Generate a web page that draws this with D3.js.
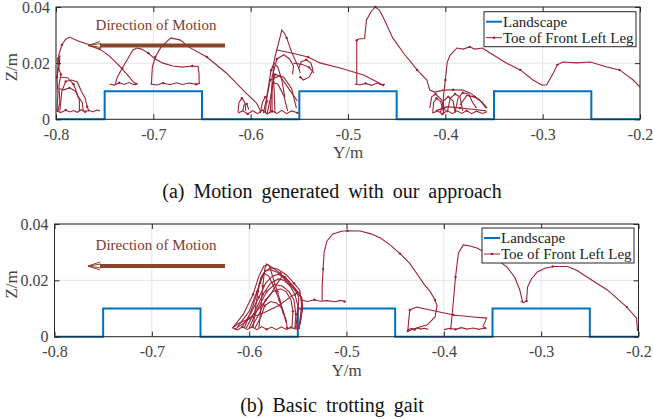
<!DOCTYPE html>
<html>
<head>
<meta charset="utf-8">
<script src="https://cdn.jsdelivr.net/npm/d3@7"></script>
<style>
  body { margin: 0; background: #fff; }
  svg { display: block; }
  svg text { font-family: "Liberation Serif", "Times New Roman", serif; }
</style>
</head>
<body>
<div id="chart"></div>
<script>
// ticks and landscape profile
const xTicks = [-0.8, -0.7, -0.6, -0.5, -0.4, -0.3, -0.2]
const yTicks = [0, 0.02, 0.04]
const landscapeY = [-0.8, -0.75, -0.65, -0.55, -0.45, -0.35, -0.25, -0.2]
const landscapeZ = [0, 0.01, 0, 0.01, 0, 0.01, 0, 0]
const legendLabels = ['Landscape', 'Toe of Front Left Leg']
const captions = ['(a) Motion generated with our approach', '(b) Basic trotting gait']

// toe trajectory, panel (a): each entry is one stroke of [Y, Z]
const toeApproach = [
  [[-0.799,0.0026],[-0.798,0.0090],[-0.799,0.0150],[-0.797,0.0190],[-0.799,0.0215],[-0.796,0.0225],[-0.797,0.0180],[-0.795,0.0160],[-0.797,0.0120],[-0.796,0.0060],[-0.798,0.0030]],
  [[-0.799,0.0030],[-0.795,0.0024],[-0.790,0.0033],[-0.786,0.0026],[-0.782,0.0031],[-0.778,0.0025],[-0.774,0.0034],[-0.770,0.0027],[-0.766,0.0032],[-0.762,0.0026],[-0.758,0.0033],[-0.755,0.0030]],
  [[-0.796,0.0030],[-0.794,0.0100],[-0.790,0.0135],[-0.784,0.0140],[-0.778,0.0133],[-0.774,0.0100],[-0.770,0.0075],[-0.768,0.0045],[-0.766,0.0028]],
  [[-0.795,0.0150],[-0.788,0.0148],[-0.782,0.0125],[-0.777,0.0080],[-0.773,0.0060],[-0.772,0.0028]],
  [[-0.797,0.0110],[-0.792,0.0105],[-0.786,0.0112],[-0.780,0.0100],[-0.776,0.0070],[-0.776,0.0030]],
  [[-0.799,0.0150],[-0.797,0.0230],[-0.794,0.0265],[-0.790,0.0285],[-0.786,0.0293],[-0.778,0.0280],[-0.768,0.0268],[-0.755,0.0250],[-0.745,0.0225],[-0.735,0.0190],[-0.727,0.0160],[-0.721,0.0135],[-0.718,0.0126]],
  [[-0.745,0.0126],[-0.740,0.0122],[-0.735,0.0130],[-0.730,0.0124],[-0.725,0.0131],[-0.720,0.0123],[-0.716,0.0128]],
  [[-0.739,0.0126],[-0.737,0.0150],[-0.732,0.0182],[-0.727,0.0211],[-0.721,0.0247],[-0.717,0.0254],[-0.712,0.0250],[-0.705,0.0235],[-0.698,0.0215],[-0.690,0.0200],[-0.680,0.0190],[-0.670,0.0186],[-0.660,0.0190],[-0.654,0.0188],[-0.653,0.0160],[-0.653,0.0129]],
  [[-0.702,0.0126],[-0.701,0.0186],[-0.698,0.0222],[-0.692,0.0258],[-0.682,0.0290],[-0.672,0.0282],[-0.664,0.0258],[-0.645,0.0222],[-0.625,0.0165],[-0.605,0.0094],[-0.594,0.0058],[-0.590,0.0030]],
  [[-0.703,0.0126],[-0.696,0.0122],[-0.690,0.0129],[-0.683,0.0123],[-0.676,0.0130],[-0.670,0.0124],[-0.663,0.0129],[-0.656,0.0125],[-0.652,0.0128]],
  [[-0.613,0.0022],[-0.608,0.0030],[-0.603,0.0019],[-0.598,0.0031],[-0.593,0.0020],[-0.588,0.0033],[-0.583,0.0019],[-0.578,0.0030],[-0.573,0.0021],[-0.568,0.0032],[-0.563,0.0020],[-0.558,0.0030],[-0.552,0.0023]],
  [[-0.613,0.0025],[-0.612,0.0060],[-0.609,0.0075],[-0.606,0.0060],[-0.605,0.0030]],
  [[-0.608,0.0030],[-0.607,0.0050],[-0.604,0.0055],[-0.602,0.0035]],
  [[-0.575,0.0022],[-0.576,0.0110],[-0.577,0.0186],[-0.575,0.0222],[-0.570,0.0290],[-0.568,0.0318],[-0.565,0.0305],[-0.563,0.0290],[-0.558,0.0240],[-0.551,0.0186],[-0.549,0.0165]],
  [[-0.573,0.0247],[-0.558,0.0236],[-0.541,0.0222],[-0.529,0.0201],[-0.508,0.0183],[-0.484,0.0158],[-0.470,0.0133],[-0.464,0.0122]],
  [[-0.493,0.0126],[-0.488,0.0122],[-0.482,0.0128],[-0.476,0.0121],[-0.470,0.0129],[-0.466,0.0123],[-0.462,0.0125]],
  [[-0.551,0.0180],[-0.548,0.0205],[-0.543,0.0212],[-0.538,0.0200],[-0.536,0.0175],[-0.540,0.0150],[-0.546,0.0140],[-0.549,0.0150]],
  [[-0.556,0.0200],[-0.547,0.0195],[-0.540,0.0185],[-0.535,0.0165]],
  [[-0.587,0.0022],[-0.582,0.0100],[-0.580,0.0140],[-0.570,0.0155],[-0.560,0.0105],[-0.552,0.0065]],
  [[-0.583,0.0022],[-0.580,0.0070],[-0.577,0.0130],[-0.572,0.0125],[-0.566,0.0085],[-0.562,0.0030]],
  [[-0.590,0.0022],[-0.588,0.0060],[-0.585,0.0080],[-0.582,0.0060]],
  [[-0.585,0.0022],[-0.583,0.0090],[-0.579,0.0175],[-0.576,0.0200],[-0.572,0.0185],[-0.568,0.0140],[-0.565,0.0080]],
  [[-0.580,0.0022],[-0.578,0.0120],[-0.575,0.0160],[-0.566,0.0150],[-0.558,0.0110],[-0.553,0.0040]],
  [[-0.578,0.0022],[-0.578,0.0150],[-0.573,0.0215],[-0.566,0.0230],[-0.560,0.0215],[-0.556,0.0190],[-0.557,0.0160]],
  [[-0.491,0.0126],[-0.491,0.0200],[-0.491,0.0282],[-0.489,0.0286],[-0.483,0.0288],[-0.481,0.0354],[-0.476,0.0385],[-0.472,0.0400],[-0.468,0.0390],[-0.464,0.0364],[-0.454,0.0290],[-0.443,0.0236],[-0.429,0.0176],[-0.419,0.0140],[-0.416,0.0104],[-0.411,0.0097],[-0.402,0.0104],[-0.392,0.0105],[-0.382,0.0104],[-0.375,0.0095],[-0.365,0.0070],[-0.358,0.0040]],
  [[-0.413,0.0022],[-0.412,0.0060],[-0.409,0.0075],[-0.405,0.0065],[-0.402,0.0030]],
  [[-0.416,0.0040],[-0.414,0.0080],[-0.410,0.0090],[-0.404,0.0070],[-0.400,0.0030]],
  [[-0.405,0.0025],[-0.402,0.0065],[-0.397,0.0080],[-0.392,0.0065],[-0.390,0.0025]],
  [[-0.398,0.0025],[-0.395,0.0075],[-0.390,0.0090],[-0.385,0.0080],[-0.382,0.0030]],
  [[-0.390,0.0025],[-0.387,0.0075],[-0.382,0.0095],[-0.376,0.0090],[-0.372,0.0060],[-0.368,0.0040]],
  [[-0.385,0.0050],[-0.378,0.0085],[-0.370,0.0080],[-0.362,0.0060],[-0.357,0.0040]],
  [[-0.410,0.0030],[-0.398,0.0045],[-0.385,0.0040],[-0.370,0.0035],[-0.358,0.0030]],
  [[-0.413,0.0022],[-0.408,0.0030],[-0.403,0.0019],[-0.398,0.0031],[-0.393,0.0020],[-0.388,0.0030],[-0.383,0.0021],[-0.378,0.0031],[-0.373,0.0020],[-0.368,0.0029],[-0.362,0.0021],[-0.357,0.0027]],
  [[-0.402,0.0022],[-0.402,0.0080],[-0.400,0.0140],[-0.398,0.0204],[-0.395,0.0229],[-0.388,0.0254],[-0.382,0.0250],[-0.375,0.0258],[-0.370,0.0250],[-0.362,0.0254],[-0.354,0.0236],[-0.337,0.0200],[-0.323,0.0176],[-0.310,0.0140],[-0.301,0.0122],[-0.296,0.0122],[-0.289,0.0165],[-0.285,0.0194],[-0.279,0.0204],[-0.265,0.0201],[-0.251,0.0204],[-0.234,0.0186],[-0.221,0.0176],[-0.207,0.0140],[-0.200,0.0115]]
]

// toe trajectory, panel (b)
const toeTrotting = [
  [[-0.617,0.0031],[-0.606,0.0080],[-0.596,0.0150],[-0.590,0.0215],[-0.585,0.0250],[-0.581,0.0256],[-0.576,0.0245],[-0.568,0.0225],[-0.560,0.0200],[-0.553,0.0170],[-0.549,0.0140],[-0.550,0.0080],[-0.552,0.0035]],
  [[-0.612,0.0035],[-0.600,0.0090],[-0.592,0.0160],[-0.587,0.0215],[-0.583,0.0235],[-0.578,0.0238],[-0.572,0.0230],[-0.563,0.0210],[-0.555,0.0180],[-0.549,0.0155],[-0.546,0.0130],[-0.547,0.0060],[-0.549,0.0031]],
  [[-0.608,0.0031],[-0.598,0.0085],[-0.590,0.0140],[-0.583,0.0190],[-0.576,0.0215],[-0.570,0.0222],[-0.565,0.0210],[-0.558,0.0185],[-0.552,0.0160],[-0.546,0.0140],[-0.545,0.0100],[-0.548,0.0040]],
  [[-0.605,0.0031],[-0.596,0.0110],[-0.589,0.0190],[-0.584,0.0230],[-0.578,0.0245],[-0.571,0.0240],[-0.562,0.0220],[-0.554,0.0190],[-0.548,0.0165],[-0.546,0.0110],[-0.549,0.0031]],
  [[-0.603,0.0031],[-0.594,0.0090],[-0.586,0.0150],[-0.578,0.0190],[-0.570,0.0205],[-0.564,0.0200],[-0.558,0.0180],[-0.553,0.0150],[-0.550,0.0110],[-0.551,0.0050]],
  [[-0.600,0.0031],[-0.591,0.0100],[-0.582,0.0160],[-0.574,0.0185],[-0.566,0.0180],[-0.559,0.0160],[-0.554,0.0130],[-0.552,0.0080],[-0.553,0.0031]],
  [[-0.598,0.0031],[-0.590,0.0080],[-0.583,0.0130],[-0.576,0.0160],[-0.568,0.0170],[-0.562,0.0160],[-0.557,0.0130],[-0.555,0.0090],[-0.556,0.0035]],
  [[-0.594,0.0031],[-0.588,0.0070],[-0.584,0.0110],[-0.578,0.0125],[-0.572,0.0120],[-0.566,0.0100],[-0.562,0.0060],[-0.561,0.0031]],
  [[-0.590,0.0031],[-0.588,0.0100],[-0.586,0.0180],[-0.584,0.0240],[-0.582,0.0258],[-0.579,0.0250],[-0.576,0.0215],[-0.571,0.0160],[-0.566,0.0100],[-0.562,0.0050]],
  [[-0.596,0.0031],[-0.594,0.0090],[-0.591,0.0160],[-0.588,0.0210],[-0.585,0.0225],[-0.580,0.0215],[-0.575,0.0180],[-0.569,0.0130],[-0.565,0.0080]],
  [[-0.617,0.0031],[-0.612,0.0045],[-0.600,0.0065],[-0.585,0.0085],[-0.570,0.0110],[-0.556,0.0145],[-0.548,0.0160]],
  [[-0.615,0.0025],[-0.605,0.0050],[-0.595,0.0080],[-0.585,0.0120],[-0.578,0.0150],[-0.571,0.0190],[-0.566,0.0215]],
  [[-0.617,0.0031],[-0.612,0.0024],[-0.607,0.0035],[-0.602,0.0026],[-0.597,0.0034],[-0.592,0.0025],[-0.587,0.0036],[-0.582,0.0026],[-0.577,0.0034],[-0.572,0.0025],[-0.567,0.0035],[-0.562,0.0026],[-0.557,0.0033],[-0.552,0.0027],[-0.548,0.0031]],
  [[-0.546,0.0130],[-0.540,0.0125],[-0.533,0.0131],[-0.527,0.0126],[-0.520,0.0128],[-0.512,0.0124],[-0.506,0.0129],[-0.502,0.0125]],
  [[-0.525,0.0128],[-0.525,0.0180],[-0.524,0.0240],[-0.523,0.0300],[-0.520,0.0340],[-0.514,0.0365],[-0.505,0.0374],[-0.499,0.0376],[-0.486,0.0375],[-0.475,0.0365],[-0.465,0.0350],[-0.455,0.0325],[-0.445,0.0295],[-0.435,0.0260],[-0.428,0.0225],[-0.420,0.0185],[-0.414,0.0160],[-0.409,0.0130],[-0.407,0.0110],[-0.409,0.0070],[-0.417,0.0042],[-0.428,0.0031],[-0.437,0.0020]],
  [[-0.437,0.0022],[-0.436,0.0060],[-0.435,0.0095],[-0.428,0.0105],[-0.421,0.0100],[-0.414,0.0095],[-0.402,0.0086],[-0.390,0.0077],[-0.370,0.0070],[-0.356,0.0066],[-0.360,0.0034]],
  [[-0.437,0.0025],[-0.433,0.0030],[-0.430,0.0025],[-0.427,0.0031],[-0.424,0.0027],[-0.420,0.0030],[-0.416,0.0026]],
  [[-0.393,0.0024],[-0.391,0.0095],[-0.388,0.0212],[-0.385,0.0297],[-0.380,0.0326],[-0.373,0.0322],[-0.366,0.0315],[-0.349,0.0283],[-0.335,0.0247],[-0.327,0.0210],[-0.322,0.0166],[-0.319,0.0123]],
  [[-0.400,0.0025],[-0.394,0.0030],[-0.388,0.0026],[-0.382,0.0032],[-0.376,0.0027],[-0.370,0.0031],[-0.364,0.0026],[-0.358,0.0031],[-0.356,0.0030]],
  [[-0.321,0.0125],[-0.318,0.0121],[-0.315,0.0127],[-0.314,0.0176],[-0.310,0.0205],[-0.304,0.0230],[-0.296,0.0243],[-0.288,0.0249],[-0.273,0.0249],[-0.263,0.0235],[-0.253,0.0212],[-0.232,0.0166],[-0.212,0.0105],[-0.202,0.0066],[-0.201,0.0020]]
]

const panels = [
  { left: 56, right: 640, top: 7, bottom: 119.3, toe: toeApproach, legend: [484, 11.7, 152, 35], arrowY: 45.5, textY: 30, caption: captions[0], captionY: 197.5 },
  { left: 54.5, right: 638.5, top: 224, bottom: 336.7, toe: toeTrotting, legend: [482, 228, 152, 35], arrowY: 266, textY: 250, caption: captions[1], captionY: 411.5 }
]

const W = 653, H = 419
const serif = '"Liberation Serif", "Times New Roman", serif'
const svg = d3.select('#chart').append('svg').attr('width', W).attr('height', H)

const toeColor = '#9b2335'
const blue = '#0072bd'
const brown = '#8b4329'
const fmt = d => d === 0 ? '0' : d3.format('.1f')(d).replace('−', '-')

panels.forEach(p => {
  const x = d3.scaleLinear().domain([-0.8, -0.2]).range([p.left, p.right])
  const y = d3.scaleLinear().domain([0, 0.04]).range([p.bottom, p.top])
  const g = svg.append('g')

  // grid
  g.append('g').selectAll('line').data(xTicks).enter().append('line')
    .attr('x1', d => x(d)).attr('x2', d => x(d)).attr('y1', p.top).attr('y2', p.bottom)
    .attr('stroke', '#e3e3e3').attr('stroke-width', 1)
  g.append('g').selectAll('line').data(yTicks).enter().append('line')
    .attr('y1', d => y(d)).attr('y2', d => y(d)).attr('x1', p.left).attr('x2', p.right)
    .attr('stroke', '#e3e3e3').attr('stroke-width', 1)

  // landscape
  const land = landscapeY.map((v, i) => [v, landscapeZ[i]])
  g.append('path').datum(land)
    .attr('d', d3.line().x(d => x(d[0])).y(d => y(d[1])).curve(d3.curveStepAfter))
    .attr('fill', 'none').attr('stroke', blue).attr('stroke-width', 2)

  // toe strokes
  const line = d3.line().x(d => x(d[0])).y(d => y(d[1]))
  g.append('g').selectAll('path').data(p.toe).enter().append('path')
    .attr('d', line).attr('fill', 'none').attr('stroke', toeColor).attr('stroke-width', 1.1)
  g.append('g').selectAll('g').data(p.toe).enter().append('g')
    .selectAll('circle').data(d => d.filter((_, i) => i % 5 === 2)).enter().append('circle')
    .attr('cx', d => x(d[0])).attr('cy', d => y(d[1])).attr('r', 1.2).attr('fill', toeColor)

  // axes
  const ax = g.append('g').attr('color', '#262626')
  ax.append('g').attr('transform', `translate(0,${p.bottom})`)
    .call(d3.axisBottom(x).tickValues(xTicks).tickSize(-5).tickPadding(9).tickFormat(fmt))
  ax.append('g').attr('transform', `translate(0,${p.top})`)
    .call(d3.axisTop(x).tickValues(xTicks).tickSize(-5).tickFormat(''))
  ax.append('g').attr('transform', `translate(${p.left},0)`)
    .call(d3.axisLeft(y).tickValues(yTicks).tickSize(-5).tickPadding(6).tickFormat(d => d === 0 ? '0' : d3.format('.2f')(d)))
  ax.append('g').attr('transform', `translate(${p.right},0)`)
    .call(d3.axisRight(y).tickValues(yTicks).tickSize(-5).tickFormat(''))
  ax.selectAll('.domain').remove()
  ax.selectAll('g').attr('font-family', serif)
  ax.selectAll('text').attr('font-family', serif).attr('font-size', 16).attr('fill', '#444')
  ax.append('rect').attr('x', p.left).attr('y', p.top)
    .attr('width', p.right - p.left).attr('height', p.bottom - p.top)
    .attr('fill', 'none').attr('stroke', '#262626').attr('stroke-width', 1)

  // axis titles
  g.append('text').attr('x', (p.left + p.right) / 2).attr('y', p.bottom + 39)
    .attr('text-anchor', 'middle').attr('font-size', 17).attr('fill', '#444').text('Y/m')
  g.append('text').attr('transform', `translate(17,${(p.top + p.bottom) / 2 + 4}) rotate(-90)`)
    .attr('text-anchor', 'middle').attr('font-size', 17).attr('fill', '#444').text('Z/m')

  // direction arrow
  g.append('text').attr('x', 156).attr('y', p.textY).attr('text-anchor', 'middle')
    .attr('font-size', 15).attr('fill', '#7d3b2c').text('Direction of Motion')
  g.append('line').attr('x1', 225).attr('x2', 100).attr('y1', p.arrowY).attr('y2', p.arrowY)
    .attr('stroke', brown).attr('stroke-width', 4)
  g.append('path')
    .attr('d', `M${101},${p.arrowY - 2} L${88},${p.arrowY} L${101},${p.arrowY + 2} M${88},${p.arrowY} L${100},${p.arrowY - 4} M${88},${p.arrowY} L${100},${p.arrowY + 4}`)
    .attr('fill', 'none').attr('stroke', brown).attr('stroke-width', 1)

  // legend
  const [lx, ly, lw, lh] = p.legend
  const lg = g.append('g')
  lg.append('rect').attr('x', lx).attr('y', ly).attr('width', lw).attr('height', lh)
    .attr('fill', '#fff').attr('stroke', '#262626').attr('stroke-width', 1)
  legendLabels.forEach((lab, i) => {
    const cy = ly + 10 + i * 16
    lg.append('line').attr('x1', lx + 2).attr('x2', lx + 18).attr('y1', cy).attr('y2', cy)
      .attr('stroke', i === 0 ? blue : toeColor).attr('stroke-width', i === 0 ? 2 : 1)
    if (i === 1) lg.append('circle').attr('cx', lx + 10).attr('cy', cy).attr('r', 1.3).attr('fill', toeColor)
    lg.append('text').attr('x', lx + 19).attr('y', cy + 5).attr('font-size', 15).attr('fill', '#222').text(lab)
  })

  // caption
  svg.append('text').attr('x', 332).attr('y', p.captionY).attr('text-anchor', 'middle')
    .attr('font-size', 20).attr('word-spacing', 4).attr('fill', '#111').text(p.caption)
})
</script>
</body>
</html>
